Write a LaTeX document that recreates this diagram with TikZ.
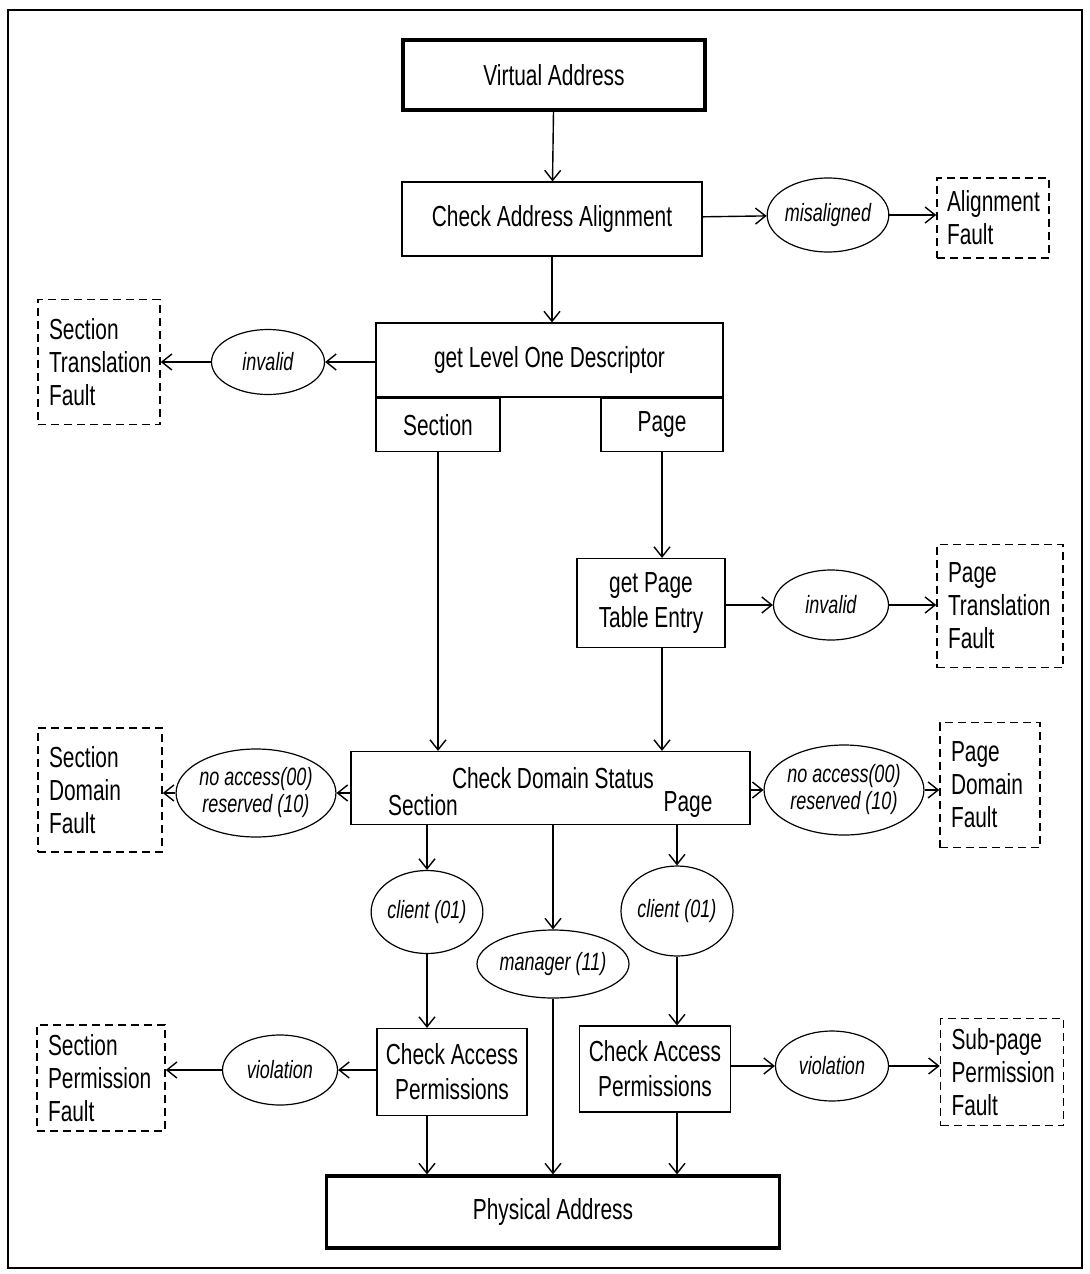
\documentclass[tikz,border=0pt]{standalone}
\usepackage{fontspec}
\setmainfont{Liberation Sans}[FakeStretch=0.72]
\usetikzlibrary{arrows.meta,shapes.geometric}

\begin{document}
\begin{tikzpicture}[
  x=0.5pt,y=-0.5pt,
  box/.style={draw,line width=0.6pt,align=center,inner sep=2pt,font=\fontsize{14.5}{17.5}\selectfont},
  term/.style={box,line width=1.6pt},
  fault/.style={draw,line width=0.8pt,dash pattern=on 4pt off 2.5pt,align=left,inner xsep=5.5pt,inner ysep=3pt,text width=#1,font=\fontsize{14.5}{16.5}\selectfont},
  cond/.style={draw,ellipse,line width=0.6pt,inner sep=0pt,align=center,font=\fontsize{12.5}{13.5}\selectfont\itshape},
  lab/.style={inner sep=1pt,font=\fontsize{14.5}{17}\selectfont},
  arr/.style={-{Straight Barb[length=5pt,width=8pt]},line width=0.7pt}
]
\useasboundingbox (0,0) rectangle (1090,1274);
\draw[line width=1pt] (8,10) rectangle (1082,1268);

% top: virtual address and alignment
\node[term,minimum width=151pt,minimum height=35pt] (va) at (554,75) {Virtual Address};
\node[box,minimum width=150pt,minimum height=37pt] (caa) at (552,219) {Check Address Alignment};
\node[cond,minimum width=50pt,minimum height=37pt] (mis) at (828,215) {misaligned};
\node[fault=46pt,inner xsep=5pt,minimum height=40pt] (alf) at (993,218) {Alignment\\Fault};

% level one descriptor
\node[box,minimum width=173.5pt,minimum height=37pt] (l1) at (549.5,360) {get Level One Descriptor};
\node[box,anchor=north west,minimum width=62pt,minimum height=26.5pt] (l1sec) at (l1.south west) {Section};
\node[box,anchor=north east,minimum width=61pt,minimum height=26.5pt] (l1page) at (l1.south east) {Page};
\node[cond,minimum width=56.5pt,minimum height=32.5pt] (inv1) at (268,362) {invalid};
\node[fault=50pt,minimum height=62.5pt] (stf) at (99,362) {Section\\Translation\\Fault};

% page table entry
\node[box,minimum width=74pt,minimum height=44.5pt] (pte) at (651,603) {get Page\\Table Entry};
\node[cond,minimum width=57.5pt,minimum height=35pt] (inv2) at (831,605) {invalid};
\node[fault=52pt,minimum height=61.5pt] (ptf) at (1000,606) {Page\\Translation\\Fault};

% domain check
\node[box,minimum width=199.5pt,minimum height=36.5pt] (cds) at (550.5,788) {};
\node[lab] (cdstitle) at (553,778) {Check Domain Status};
\node[lab] (cdssec) at (423,805) {Section};
\node[lab] (cdspage) at (688,805) {Page};
\node[cond,minimum width=66.5pt,minimum height=44pt] (noacc1) at (256,793) {no access(00)\\reserved (10)};
\node[fault=51pt,minimum height=62pt] (sdf) at (100,790) {Section\\Domain\\Fault};
\node[cond,minimum width=66pt,minimum height=45pt] (noacc2) at (844,790) {no access(00)\\reserved (10)};
\node[fault=39pt,minimum height=62.5pt] (pdf) at (990,785) {Page\\Domain\\Fault};

% domain results
\node[cond,minimum width=54.5pt,minimum height=41.5pt] (cl1) at (427,912) {client (01)};
\node[cond,minimum width=76pt,minimum height=34pt] (mgr) at (553,964) {manager (11)};
\node[cond,minimum width=56pt,minimum height=45pt] (cl2) at (677,911) {client (01)};

% access permissions
\node[box,minimum width=75pt,minimum height=43.5pt] (cap1) at (452,1072) {Check Access\\Permissions};
\node[box,minimum width=75.5pt,minimum height=43pt] (cap2) at (655,1069) {Check Access\\Permissions};
\node[cond,minimum width=57.5pt,minimum height=35pt] (viol1) at (280,1070) {violation};
\node[fault=53pt,minimum height=53pt] (spf) at (101,1078) {Section\\Permission\\Fault};
\node[cond,minimum width=56.5pt,minimum height=35pt] (viol2) at (832,1066) {violation};
\node[fault=50.5pt,minimum height=53.5pt] (sppf) at (1002,1072) {Sub-page\\Permission\\Fault};

\node[term,minimum width=226.5pt,minimum height=36pt] (pa) at (553,1212) {Physical Address};

% connectors
\draw[arr] (va) -- (caa);
\draw[arr] (caa) -- (mis);
\draw[arr] (mis) -- (alf.west |- mis);
\draw[arr] (caa.south) -- (caa.south |- l1.north);
\draw[arr] (l1.west |- inv1) -- (inv1);
\draw[arr] (inv1) -- (stf.east |- inv1);
\draw[arr] (l1sec.south) -- (l1sec.south |- cds.north);
\draw[arr] (l1page.south) -- (l1page.south |- pte.north);
\draw[arr] (pte.east |- inv2) -- (inv2);
\draw[arr] (inv2) -- (ptf.west |- inv2);
\draw[arr] (l1page.south |- pte.south) -- (l1page.south |- cds.north);
\draw[arr] (cds.west |- noacc1) -- (noacc1);
\draw[arr] (noacc1) -- (sdf.east |- noacc1);
\draw[arr] (cds.east |- noacc2) -- (noacc2);
\draw[arr] (noacc2) -- (pdf.west |- noacc2);
\draw[arr] (cl1.north |- cds.south) -- (cl1.north);
\draw[arr] (mgr.north |- cds.south) -- (mgr.north);
\draw[arr] (cl2.north |- cds.south) -- (cl2.north);
\draw[arr] (cl1.south) -- (cl1.south |- cap1.north);
\draw[arr] (cl2.south) -- (cl2.south |- cap2.north);
\draw[arr] (cap1.west |- viol1) -- (viol1);
\draw[arr] (viol1) -- (spf.east |- viol1);
\draw[arr] (cap2.east |- viol2) -- (viol2);
\draw[arr] (viol2) -- (sppf.west |- viol2);
\draw[arr] (cl1.south |- cap1.south) -- (cl1.south |- pa.north);
\draw[arr] (mgr.south) -- (mgr.south |- pa.north);
\draw[arr] (cl2.south |- cap2.south) -- (cl2.south |- pa.north);
\end{tikzpicture}
\end{document}
